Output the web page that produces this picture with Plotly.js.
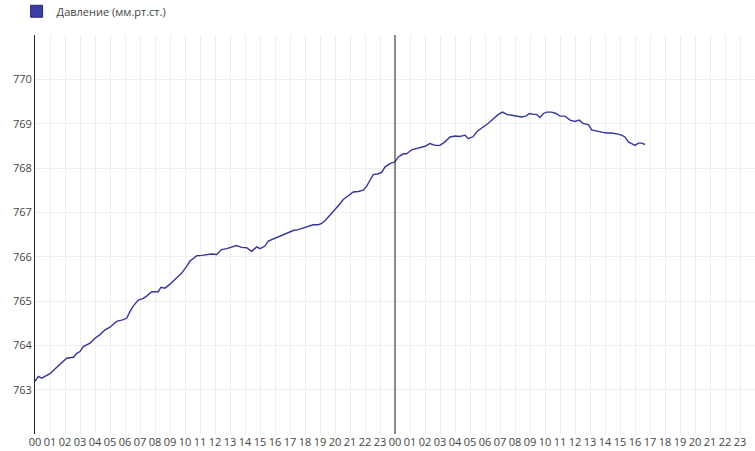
<!DOCTYPE html>
<html>
<head>
<meta charset="utf-8">
<script src="https://cdn.plot.ly/plotly-3.0.1.min.js"></script>
<style>html,body{margin:0;padding:0;background:#fff;}#chart{width:755px;height:451px;}</style>
</head>
<body>
<div id="chart"></div>
<script>
// Hours since start of day 1
var hours = [
  0, 0.22, 0.44, 0.78, 1.0, 1.22, 1.56, 1.89, 2.11, 2.56, 2.78, 3.0, 3.22, 3.67, 4.0, 4.33, 4.67, 5.0,
  5.44, 5.78, 6.11, 6.33, 6.56, 6.89, 7.22, 7.44, 7.78, 8.0, 8.22, 8.4, 8.67, 9.0, 9.33, 9.78, 10.11,
  10.33, 10.56, 10.78, 11.11, 11.44, 11.78, 12.11, 12.44, 12.78, 13.11, 13.44, 13.78, 14.11, 14.44,
  14.78, 15.0, 15.33, 15.55, 15.89, 16.22, 16.55, 16.89, 17.22, 17.55, 17.89, 18.22, 18.55, 18.89,
  19.11, 19.33, 19.66, 19.93, 20.22, 20.55, 20.89, 21.22, 21.55, 21.89, 22.11, 22.33, 22.55, 22.89,
  23.11, 23.33, 23.66, 24.0, 24.22, 24.56, 24.78, 25.11, 25.44, 25.78, 26.0, 26.33, 26.67, 27.0,
  27.33, 27.67, 28.0, 28.33, 28.67, 28.89, 29.22, 29.49, 29.89, 30.22, 30.56, 30.89, 31.18, 31.44,
  31.78, 32.11, 32.44, 32.73, 32.96, 33.22, 33.44, 33.67, 33.89, 34.11, 34.44, 34.73, 35.0, 35.33,
  35.67, 36.0, 36.29, 36.56, 36.89, 37.11, 37.44, 37.78, 38.11, 38.44, 38.78, 39.11, 39.33, 39.56,
  39.78, 40.0, 40.22, 40.44, 40.67
];
// Pressure, mm Hg
var pressure = [
  763.19, 763.30, 763.26, 763.32, 763.36, 763.43, 763.54, 763.64, 763.71, 763.73, 763.82, 763.86,
  763.97, 764.05, 764.16, 764.24, 764.35, 764.41, 764.54, 764.57, 764.61, 764.76, 764.89, 765.02,
  765.06, 765.11, 765.21, 765.21, 765.21, 765.31, 765.29, 765.38, 765.49, 765.63, 765.78, 765.90,
  765.96, 766.02, 766.03, 766.05, 766.06, 766.05, 766.16, 766.18, 766.21, 766.25, 766.21, 766.20,
  766.12, 766.22, 766.18, 766.24, 766.35, 766.40, 766.45, 766.50, 766.54, 766.59, 766.61, 766.65,
  766.69, 766.72, 766.72, 766.75, 766.81, 766.93, 767.05, 767.15, 767.29, 767.38, 767.46, 767.47,
  767.50, 767.59, 767.72, 767.85, 767.87, 767.90, 768.02, 768.10, 768.14, 768.25, 768.32, 768.32,
  768.41, 768.44, 768.46, 768.49, 768.55, 768.51, 768.51, 768.59, 768.70, 768.72, 768.71, 768.74,
  768.66, 768.71, 768.83, 768.92, 769.01, 769.11, 769.21, 769.26, 769.21, 769.19, 769.17, 769.15,
  769.17, 769.23, 769.21, 769.21, 769.14, 769.23, 769.26, 769.26, 769.23, 769.17, 769.17, 769.08,
  769.05, 769.08, 769.00, 768.98, 768.86, 768.83, 768.81, 768.79, 768.79, 768.77, 768.74, 768.70,
  768.59, 768.55, 768.51, 768.56, 768.56, 768.53
];
var hourLabels = ['00','01','02','03','04','05','06','07','08','09','10','11',
                  '12','13','14','15','16','17','18','19','20','21','22','23'];
var yTicks = [763, 764, 765, 766, 767, 768, 769, 770];
var seriesName = 'Давление (мм.рт.ст.)';
var dayBoundary = 24;

var tickVals = [];
var tickText = [];
for (var d = 0; d < 2; d++) {
  for (var i = 0; i < hourLabels.length; i++) {
    tickVals.push(d * 24 + i);
    tickText.push(hourLabels[i]);
  }
}

var lineColor = '#36369a';

var traces = [
  {
    type: 'scatter', mode: 'lines', x: hours, y: pressure,
    line: {color: lineColor, width: 1.4}, showlegend: false, hoverinfo: 'x+y'
  },
  {
    type: 'bar', x: [null], y: [null], name: seriesName,
    marker: {color: '#3c3ca6', line: {color: '#2a2a7a', width: 1}}, showlegend: true
  }
];

var layout = {
  width: 755, height: 451,
  margin: {l: 35, r: 0, t: 35, b: 17, pad: 0, autoexpand: false},
  paper_bgcolor: '#fff', plot_bgcolor: '#fff',
  font: {family: '"Open Sans", sans-serif', size: 11, color: '#444'},
  showlegend: true,
  legend: {
    xref: 'container', yref: 'container',
    x: 0.022, xanchor: 'left', y: 0.975, yanchor: 'middle',
    font: {size: 11, color: '#444'}, bgcolor: 'rgba(0,0,0,0)', borderwidth: 0
  },
  xaxis: {
    range: [0, 48], tickmode: 'array', tickvals: tickVals, ticktext: tickText,
    showgrid: true, gridcolor: '#eee', gridwidth: 1, zeroline: false,
    showline: false, ticks: '', tickfont: {size: 11, color: '#444'}, fixedrange: true
  },
  yaxis: {
    range: [762, 771], tickmode: 'array', tickvals: yTicks,
    showgrid: true, gridcolor: '#eee', gridwidth: 1, zeroline: false,
    showline: true, linecolor: '#222', linewidth: 1, ticks: '',
    tickfont: {size: 11, color: '#444'}, fixedrange: true
  },
  shapes: [
    {type: 'line', xref: 'x', yref: 'paper', x0: dayBoundary, x1: dayBoundary, y0: 0, y1: 1,
     line: {color: '#222', width: 1}}
  ]
};

Plotly.newPlot('chart', traces, layout, {displayModeBar: false, staticPlot: true});
</script>
</body>
</html>
